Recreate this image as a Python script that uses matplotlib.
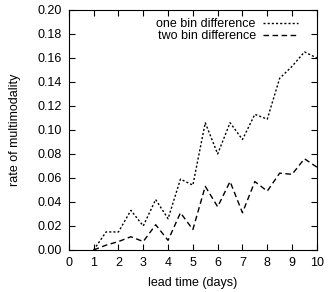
import numpy as np
import matplotlib
matplotlib.use("Agg")
import matplotlib.pyplot as plt

plt.rcParams['font.family'] = ['Liberation Sans', 'DejaVu Sans']

lead = [1, 1.5, 2, 2.5, 3, 3.5, 4, 4.5, 5, 5.5, 6, 6.5, 7, 7.5, 8, 8.5, 9, 9.5, 10]
one_bin = [0.0, 0.015, 0.015, 0.033, 0.020, 0.042, 0.026, 0.059, 0.054, 0.106,
           0.080, 0.106, 0.092, 0.113, 0.109, 0.143, 0.153, 0.165, 0.160]
two_bin = [0.0, 0.004, 0.007, 0.011, 0.007, 0.021, 0.008, 0.031, 0.017, 0.053,
           0.036, 0.057, 0.031, 0.057, 0.049, 0.064, 0.063, 0.076, 0.069]

fig = plt.figure(figsize=(3.28, 2.92), dpi=100)
ax = fig.add_axes([0.210, 0.144, 0.756, 0.822])

ax.plot(lead, one_bin, color='black', lw=1.0, ls=(0, (1.5, 1.5)), label='one bin difference')
ax.plot(lead, two_bin, color='black', lw=1.0, ls=(0, (4, 2.5)), label='two bin difference')

ax.set_xlim(0, 10)
ax.set_ylim(0, 0.2)
ax.set_xticks(np.arange(0, 11, 1))
ax.set_yticks(np.arange(0, 0.201, 0.02))
ax.set_yticklabels(['%.2f' % v for v in np.arange(0, 0.201, 0.02)])
ax.tick_params(direction='in', top=True, right=True, labelsize=9, length=4, pad=5)
ax.set_xlabel('lead time (days)', fontsize=9, labelpad=6)
ax.set_ylabel('rate of multimodality', fontsize=9, labelpad=12)

ax.legend(loc='upper right', bbox_to_anchor=(0.935, 0.975), frameon=False,
          markerfirst=False, fontsize=9, handlelength=2.8, labelspacing=0.0,
          borderaxespad=0, borderpad=0.2, handletextpad=0.6)

fig.savefig('out.png', dpi=100)
